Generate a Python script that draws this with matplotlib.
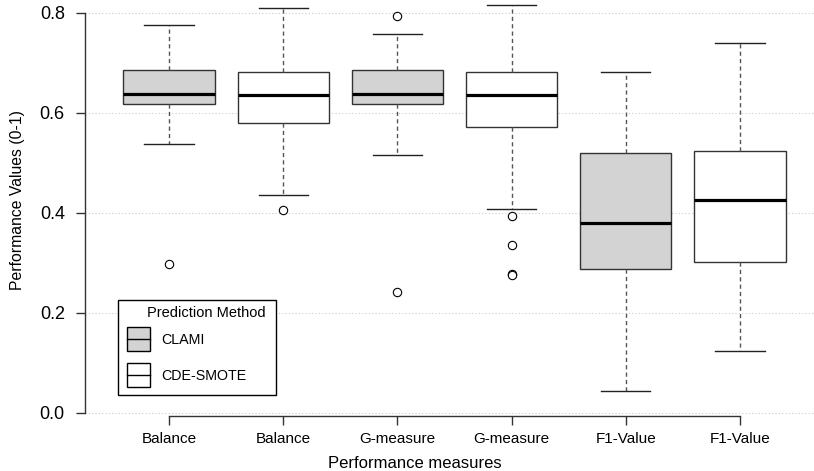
import matplotlib
matplotlib.use("Agg")
import matplotlib.pyplot as plt
from matplotlib.patches import Rectangle
from matplotlib.lines import Line2D
from matplotlib.transforms import Affine2D

# === Data ===
labels = ["Balance", "Balance", "G-measure", "G-measure", "F1-Value", "F1-Value"]
methods = ["CLAMI", "CDE-SMOTE", "CLAMI", "CDE-SMOTE", "CLAMI", "CDE-SMOTE"]
whislo = [0.538, 0.436, 0.516, 0.407, 0.044, 0.124]
q1 = [0.617, 0.579, 0.617, 0.571, 0.287, 0.302]
med = [0.638, 0.636, 0.638, 0.636, 0.379, 0.425]
q3 = [0.685, 0.681, 0.685, 0.682, 0.519, 0.523]
whishi = [0.775, 0.809, 0.757, 0.816, 0.681, 0.739]
fliers = [[0.297], [0.406], [0.793, 0.242], [0.393, 0.335, 0.277, 0.275], [], []]

legend_methods = ["CLAMI", "CDE-SMOTE"]
colors = {"CLAMI": "#d3d3d3", "CDE-SMOTE": "white"}

W, H = 814, 471
fig = plt.figure(figsize=(W / 100, H / 100), dpi=100)
plt.rcParams["font.family"] = ["Liberation Sans", "DejaVu Sans"]

# axes area in pixels: x 85..814, y 0..416
ax = fig.add_axes([85 / W, 1 - 416 / H, (W - 85) / W, 416 / H])

stats = []
for i in range(len(labels)):
    stats.append(dict(whislo=whislo[i], q1=q1[i], med=med[i], q3=q3[i],
                      whishi=whishi[i], fliers=fliers[i], label=labels[i]))

pos = list(range(1, len(labels) + 1))
bp = ax.bxp(stats, positions=pos, widths=0.8, capwidths=0.43, patch_artist=True,
            boxprops=dict(edgecolor="#333333", linewidth=1.0),
            medianprops=dict(color="black", linewidth=2.3, solid_capstyle="butt"),
            whiskerprops=dict(color="#555555", linewidth=1.0, dashes=(3, 2.3)),
            capprops=dict(color="#222222", linewidth=1.0),
            flierprops=dict(marker="o", markerfacecolor="white",
                            markeredgecolor="black", markersize=6, markeredgewidth=0.8))
for box, m in zip(bp["boxes"], methods):
    box.set_facecolor(colors[m])

ax.set_xlim(1 - 84 / 114.2, 6 + 74 / 114.2)
ax.set_ylim(-0.0064, 0.825)
ax.set_yticks([0.0, 0.2, 0.4, 0.6, 0.8])
ax.set_yticklabels(["0.0", "0.2", "0.4", "0.6", "0.8"])
ax.set_xticks(pos)
ax.set_xticklabels(labels)

ax.yaxis.grid(True, linestyle=(0, (1, 2)), color="#cccccc", linewidth=0.8)
ax.set_axisbelow(True)

for s in ["top", "right"]:
    ax.spines[s].set_visible(False)
ax.spines["left"].set_bounds(0, 0.8)
ax.spines["bottom"].set_bounds(1, 6)
for s in ["left", "bottom"]:
    ax.spines[s].set_color("#333333")
    ax.spines[s].set_linewidth(1.0)

ax.tick_params(axis="y", direction="out", length=6.5, width=1.0, color="#333333",
               labelsize=13, pad=8)
ax.tick_params(axis="x", direction="out", length=6.5, width=1.0, color="#333333",
               labelsize=11, pad=5)

ax.set_xlabel("Performance measures", fontsize=12)
ax.xaxis.label.set_va("center")
ax.xaxis.set_label_coords((415 - 85) / (W - 85), -47 / 416)
ax.set_ylabel("Performance Values (0-1)", fontsize=11.3)
ax.yaxis.label.set_va("center")
ax.yaxis.set_label_coords((18 - 85) / (W - 85), (416 - 200) / 416)

# === Legend, drawn R style in pixel coordinates ===
pix = Affine2D().scale(1 / W, -1 / H).translate(0, 1) + fig.transFigure
fig.add_artist(Rectangle((118, 300), 158, 95, transform=pix, facecolor="white",
                         edgecolor="black", linewidth=1.0))
fig.text(147, 313, "Prediction Method", transform=pix, fontsize=10.5,
         va="center", ha="left")
for k, m in enumerate(legend_methods):
    y0 = 327 + k * 36
    fig.add_artist(Rectangle((127, y0), 23, 24, transform=pix, facecolor=colors[m],
                             edgecolor="black", linewidth=1.0))
    fig.add_artist(Line2D([127, 150], [y0 + 12, y0 + 12], transform=pix,
                          color="black", linewidth=1.0))
    fig.text(161, y0 + 13, m, transform=pix, fontsize=10.3, va="center", ha="left")

fig.savefig("out.png", dpi=100)
